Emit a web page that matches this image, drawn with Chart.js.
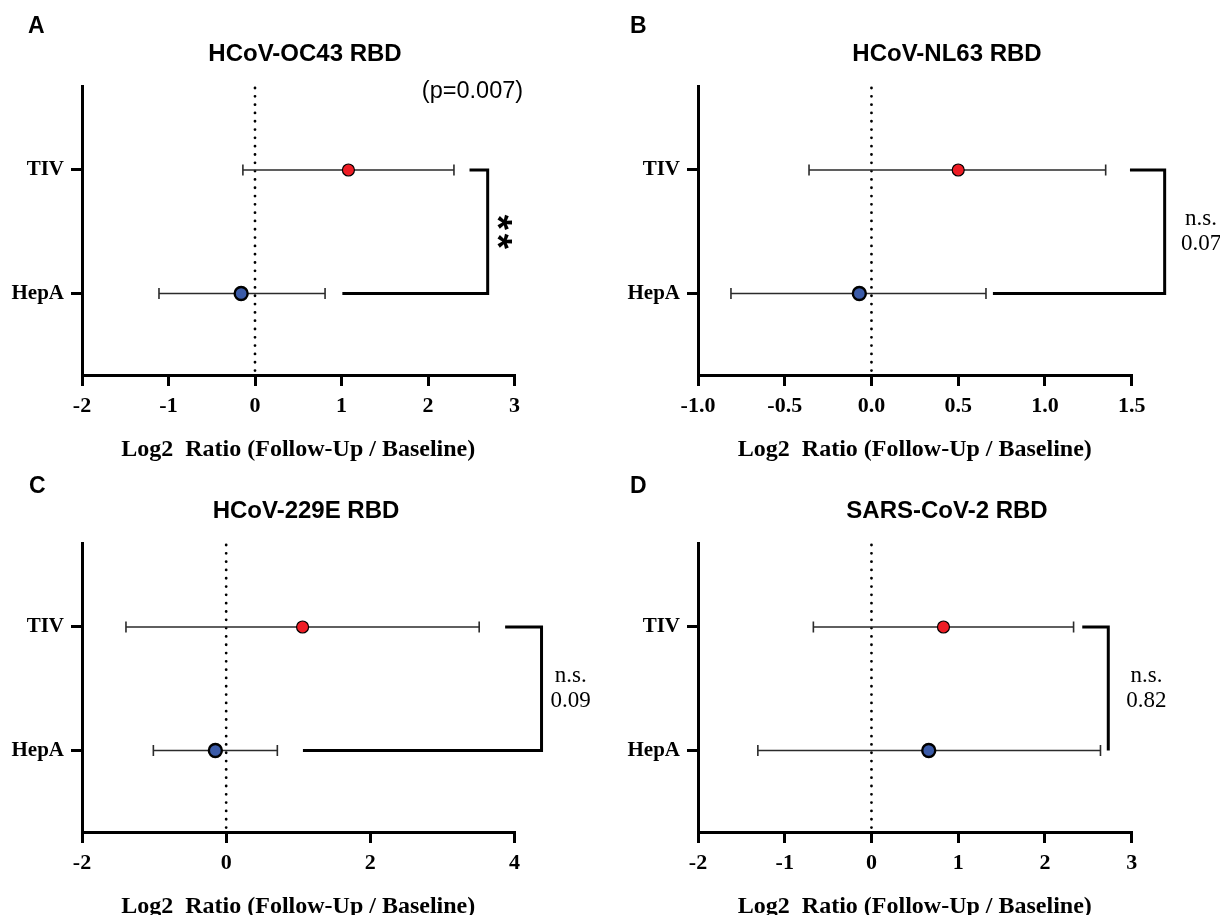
<!DOCTYPE html>
<html><head><meta charset="utf-8">
<script src="https://cdn.jsdelivr.net/npm/chart.js@4.4.0/dist/chart.umd.min.js"></script>
<style>
html,body{margin:0;padding:0;background:#fff;width:1220px;height:915px;overflow:hidden;position:relative}
.panel{position:absolute;width:610px;height:470px}
canvas{display:block}
</style></head><body>
<div class="panel" style="left:0;top:0"><canvas id="cA" width="610" height="470"></canvas></div>
<div class="panel" style="left:610px;top:0"><canvas id="cB" width="610" height="470"></canvas></div>
<div class="panel" style="left:0;top:457px"><canvas id="cC" width="610" height="470"></canvas></div>
<div class="panel" style="left:610px;top:457px"><canvas id="cD" width="610" height="470"></canvas></div>
<script>
// ---- data ----
const groups = ['TIV', 'HepA'];
const groupPos = [2, 1];
const panelLetters = ['A', 'B', 'C', 'D'];
const panelTitles = ['HCoV-OC43 RBD', 'HCoV-NL63 RBD', 'HCoV-229E RBD', 'SARS-CoV-2 RBD'];
const tivMean = [1.08, 0.50, 1.06, 0.83];
const tivLow  = [-0.14, -0.36, -1.39, -0.67];
const tivHigh = [2.30, 1.35, 3.51, 2.33];
const hepaMean = [-0.16, -0.07, -0.15, 0.66];
const hepaLow  = [-1.11, -0.81, -1.01, -1.31];
const hepaHigh = [0.81, 0.66, 0.71, 2.64];
const xTickValuesA = [-2, -1, 0, 1, 2, 3];
const xTickLabelsA = ['-2', '-1', '0', '1', '2', '3'];
const xTickValuesB = [-1, -0.5, 0, 0.5, 1, 1.5];
const xTickLabelsB = ['-1.0', '-0.5', '0.0', '0.5', '1.0', '1.5'];
const xTickValuesC = [-2, 0, 2, 4];
const xTickLabelsC = ['-2', '0', '2', '4'];
const xTickValuesD = [-2, -1, 0, 1, 2, 3];
const xTickLabelsD = ['-2', '-1', '0', '1', '2', '3'];
const sigLabels = ['**', 'n.s.', 'n.s.', 'n.s.'];
const pLabels = ['(p=0.007)', '0.07', '0.09', '0.82'];
const xAxisTitle = 'Log2  Ratio (Follow-Up / Baseline)';

// ---- layout (positions/styles) ----
const panels = [
  {id:'cA', ticksV:xTickValuesA, ticksL:xTickLabelsA, yW:82, padR:95.5, letter:[28,33], titleX:305,
   br:{tiv:2.48, hep:1.01, x:2.69}, textX:2.91, pPix:[472.5, 98]},
  {id:'cB', ticksV:xTickValuesB, ticksL:xTickLabelsB, yW:88, padR:88.3, letter:[20,33], titleX:337,
   br:{tiv:1.49, hep:0.70, x:1.69}, textX:1.90},
  {id:'cC', ticksV:xTickValuesC, ticksL:xTickLabelsC, yW:82, padR:95.5, letter:[29,36], titleX:306,
   br:{tiv:3.87, hep:1.065, x:4.375}, textX:4.78},
  {id:'cD', ticksV:xTickValuesD, ticksL:xTickLabelsD, yW:88, padR:88.3, letter:[20,36], titleX:337,
   br:{tiv:2.43, hep:2.73, x:2.73}, textX:3.17}
];

const RED = '#ee1d25', BLUE = '#3b5ba8';

function makePlugin(i, L) {
  return {
    id: 'forest' + i,
    beforeDatasetsDraw(chart) {
      const {ctx, chartArea:ca, scales:{x, y}} = chart;
      ctx.save();
      // dotted zero line
      const x0 = x.getPixelForValue(0);
      ctx.beginPath();
      ctx.setLineDash([0.01, 8.3]);
      ctx.lineCap = 'round';
      ctx.lineWidth = 2.8;
      ctx.strokeStyle = '#000';
      ctx.moveTo(x0, ca.top + 2);
      ctx.lineTo(x0, ca.bottom);
      ctx.stroke();
      ctx.setLineDash([]);
      ctx.lineCap = 'butt';
      // error bars
      const rows = [[tivLow[i], tivHigh[i], groupPos[0]], [hepaLow[i], hepaHigh[i], groupPos[1]]];
      ctx.strokeStyle = '#2b2b2b';
      ctx.lineWidth = 1.6;
      rows.forEach(([lo, hi, g]) => {
        const py = y.getPixelForValue(g);
        const pl = x.getPixelForValue(lo), ph = x.getPixelForValue(hi);
        ctx.beginPath();
        ctx.moveTo(pl, py); ctx.lineTo(ph, py);
        ctx.moveTo(pl, py - 5.5); ctx.lineTo(pl, py + 5.5);
        ctx.moveTo(ph, py - 5.5); ctx.lineTo(ph, py + 5.5);
        ctx.stroke();
      });
      ctx.restore();
    },
    afterDraw(chart) {
      const {ctx, chartArea:ca, scales:{x, y}} = chart;
      ctx.save();
      const yT = y.getPixelForValue(groupPos[0]);
      const yH = y.getPixelForValue(groupPos[1]);
      // bracket
      ctx.beginPath();
      ctx.lineWidth = 3;
      ctx.strokeStyle = '#000';
      ctx.lineJoin = 'miter';
      ctx.moveTo(x.getPixelForValue(L.br.tiv), yT);
      ctx.lineTo(x.getPixelForValue(L.br.x), yT);
      ctx.lineTo(x.getPixelForValue(L.br.x), yH);
      ctx.lineTo(x.getPixelForValue(L.br.hep), yH);
      ctx.stroke();
      const mid = (yT + yH) / 2;
      ctx.fillStyle = '#000';
      // panel letter
      ctx.font = 'bold 23px "Liberation Sans", Arial, sans-serif';
      ctx.textAlign = 'left';
      ctx.textBaseline = 'alphabetic';
      ctx.fillText(panelLetters[i], L.letter[0], L.letter[1]);
      // title
      ctx.font = 'bold 24px "Liberation Sans", Arial, sans-serif';
      ctx.textAlign = 'center';
      ctx.fillText(panelTitles[i], L.titleX, 61);
      const tx = x.getPixelForValue(L.textX);
      if (sigLabels[i] === '**') {
        ctx.font = 'bold 39px "Liberation Sans", Arial, sans-serif';
        [mid - 9.5, mid + 9.5].forEach(cy => {
          ctx.save();
          ctx.translate(tx, cy);
          ctx.rotate(Math.PI / 2);
          ctx.textAlign = 'center';
          ctx.fillText('*', 0, 22);
          ctx.restore();
        });
        ctx.font = '23.5px "Liberation Sans", Arial, sans-serif';
        ctx.textAlign = 'center';
        ctx.fillText(pLabels[i], L.pPix[0], L.pPix[1]);
      } else {
        ctx.font = '23px "Liberation Serif", "Times New Roman", serif';
        ctx.textAlign = 'center';
        ctx.fillText(sigLabels[i], tx, mid - 7);
        ctx.fillText(pLabels[i], tx, mid + 18.5);
      }
      ctx.restore();
    }
  };
}

panels.forEach((L, i) => {
  const serifB = (s) => ({family: '"Liberation Serif", "Times New Roman", serif', weight: 'bold', size: s});
  new Chart(document.getElementById(L.id), {
    type: 'scatter',
    data: {
      datasets: [
        {label: groups[0], data: [{x: tivMean[i], y: groupPos[0]}], pointRadius: 6, pointHoverRadius: 6,
         backgroundColor: RED, borderColor: '#000', borderWidth: 1.2},
        {label: groups[1], data: [{x: hepaMean[i], y: groupPos[1]}], pointRadius: 6.5, pointHoverRadius: 6.5,
         backgroundColor: BLUE, borderColor: '#000', borderWidth: 2.4}
      ]
    },
    options: {
      responsive: false,
      animation: false,
      events: [],
      layout: {padding: {left: 0, top: 86, right: L.padR, bottom: 0}},
      plugins: {legend: {display: false}, tooltip: {enabled: false}, title: {display: false}},
      scales: {
        x: {
          type: 'linear',
          min: L.ticksV[0], max: L.ticksV[L.ticksV.length - 1],
          afterBuildTicks: s => { s.ticks = L.ticksV.map(v => ({value: v})); },
          afterFit: s => { s.height = 95; },
          border: {display: true, width: 3, color: '#000'},
          grid: {drawOnChartArea: false, drawTicks: true, tickLength: 11, lineWidth: 3, color: '#000'},
          ticks: {color: '#000', font: serifB(22), padding: 7, maxRotation: 0,
                  callback: (v, idx) => L.ticksL[idx]},
          title: {display: true, text: xAxisTitle, color: '#000', font: serifB(24), padding: {top: 0, bottom: 6}}
        },
        y: {
          type: 'linear',
          min: 0.34, max: 2.68,
          afterBuildTicks: s => { s.ticks = groupPos.map(v => ({value: v})); },
          afterFit: s => { s.width = L.yW; },
          border: {display: true, width: 3, color: '#000'},
          grid: {drawOnChartArea: false, drawTicks: true, tickLength: 11, lineWidth: 3, color: '#000'},
          ticks: {color: '#000', font: serifB(21), padding: 7,
                  callback: v => groups[groupPos.indexOf(v)]}
        }
      }
    },
    plugins: [makePlugin(i, L)]
  });
});
</script>
</body></html>
